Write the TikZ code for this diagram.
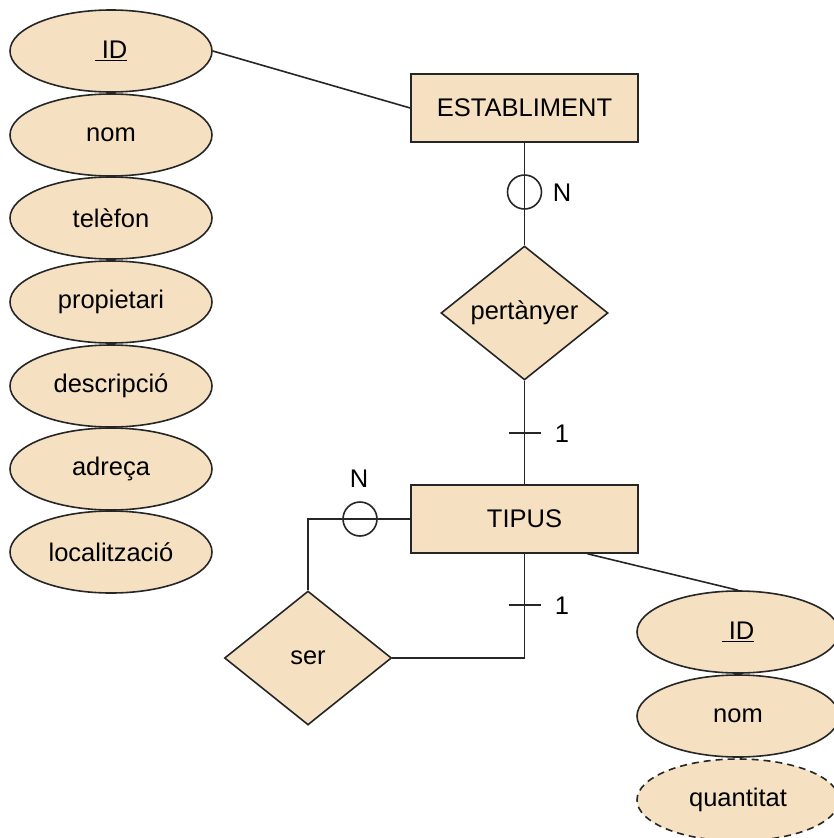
\documentclass[tikz,border=0pt]{standalone}
\usepackage{fontspec}
\setmainfont{Liberation Sans}
\usetikzlibrary{shapes.geometric,calc}
\definecolor{erfill}{HTML}{F5E1C1}
\definecolor{erline}{HTML}{262626}
\begin{document}
\begin{tikzpicture}[x=1pt,y=-1pt,
  every node/.style={font=\fontsize{25.5}{30}\selectfont},
  link/.style={draw=erline,line width=1.6pt},
  attr/.style={ellipse,draw=erline,fill=erfill,line width=1.6pt,minimum width=202pt,minimum height=82pt,inner sep=0pt},
  derived/.style={attr,dashed,dash pattern=on 7pt off 5pt},
  entity/.style={rectangle,draw=erline,fill=erfill,line width=1.6pt,minimum width=227pt,minimum height=68pt,inner sep=0pt},
  relation/.style={diamond,draw=erline,fill=erfill,line width=1.6pt,minimum width=167pt,minimum height=134pt,inner sep=0pt,aspect=1.25},
  optmark/.style={circle,draw=erline,line width=1.6pt,minimum size=34pt,inner sep=0pt},
  card/.style={inner sep=0pt}]
\useasboundingbox (0,0) rectangle (834,838);

% attributes of ESTABLIMENT
\node[attr] (eid) at (111,51) {\underline{\ ID}};
\node[attr] (enom) at (111,135) {nom};
\node[attr] (etel) at (111,218) {telèfon};
\node[attr] (eprop) at (111,302) {propietari};
\node[attr] (edesc) at (111,386) {descripció};
\node[attr] (eadr) at (111,469) {adreça};
\node[attr] (eloc) at (111,552) {localització};

% entities and relationships
\node[entity] (est) at (524.5,108) {ESTABLIMENT};
\node[relation] (pert) at (524.5,313) {pertànyer};
\node[entity] (tip) at (524.5,519) {TIPUS};
\node[relation] (ser) at (308,658) {ser};

% attributes of TIPUS
\node[attr] (tid) at (738,632) {\underline{\ ID}};
\node[attr] (tnom) at (738,716) {nom};
\node[derived] (tqua) at (738,800) {quantitat};

% connectors
\draw[link] (eid.east) -- (est.west);
\draw[link] (est.south) -- (pert.north);
\draw[link] (pert.south) -- (tip.north);
\draw[link] ($(tip.south)+(63,0)$) -- (tid.north);
\coordinate (serturn) at (ser.north |- tip.west);
\draw[link] (tip.west) -- (serturn) -- (ser.north);
\coordinate (serback) at (tip.south |- ser.east);
\draw[link] (ser.east) -- (serback) -- (tip.south);

% cardinality marks
\node[optmark] (c1) at (524.5,192) {};
\node[card] (n1) at (562,193) {N};
\coordinate (t1) at (524.5,433);
\draw[link] ($(t1)+(-16,0)$) -- ($(t1)+(16,0)$);
\node[card] (o1) at (562,434) {1};
\node[optmark] (c2) at (360,519) {};
\node[card] (n2) at (359,479) {N};
\coordinate (t2) at (524.5,605);
\draw[link] ($(t2)+(-16,0)$) -- ($(t2)+(16,0)$);
\node[card] (o2) at (562,606) {1};
\end{tikzpicture}
\end{document}
